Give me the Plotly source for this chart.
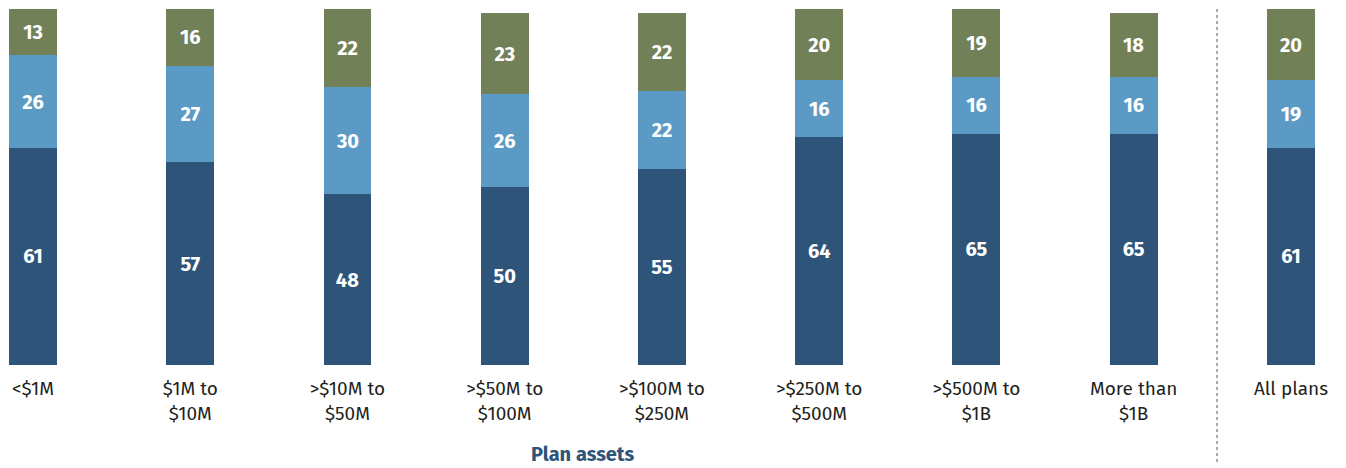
import plotly.graph_objects as go

categories = ["<$1M", "$1M to<br>$10M", ">$10M to<br>$50M", ">$50M to<br>$100M",
              ">$100M to<br>$250M", ">$250M to<br>$500M", ">$500M to<br>$1B",
              "More than<br>$1B", "All plans"]
bottom_vals = [61, 57, 48, 50, 55, 64, 65, 65, 61]
middle_vals = [26, 27, 30, 26, 22, 16, 16, 16, 19]
top_vals = [13, 16, 22, 23, 22, 20, 19, 18, 20]

colors = ["#2E5579", "#5A9AC5", "#718056"]
FONT = "Fira Sans, Noto Sans, sans-serif"

x = list(range(len(categories)))
fig = go.Figure()
for vals, col in zip([bottom_vals, middle_vals, top_vals], colors):
    fig.add_trace(go.Bar(
        x=x, y=vals, width=0.305, marker=dict(color=col, line=dict(width=0)),
        text=[str(v) for v in vals], textposition="inside",
        insidetextanchor="middle", constraintext="none",
        textfont=dict(color="white", size=20, family=FONT, weight="bold"),
        hoverinfo="skip", showlegend=False,
    ))

fig.update_layout(
    barmode="stack",
    width=1338, height=460,
    margin=dict(l=0, r=0, t=1, b=103),
    paper_bgcolor="white", plot_bgcolor="white",
    font=dict(family=FONT, color="#231F20"),
    xaxis=dict(range=[-0.159, 8.35], tickvals=x, ticktext=categories,
               tickfont=dict(size=19, color="#231F20", family=FONT),
               ticklabelstandoff=10,
               showgrid=False, zeroline=False, showline=False, ticks=""),
    yaxis=dict(range=[0, 100], visible=False),
)

fig.add_shape(type="line", xref="x", yref="paper", x0=7.53, x1=7.53,
              y0=-0.2725, y1=1.02, line=dict(color="#A6A6A6", width=2, dash="dot"))

fig.add_annotation(text="<b>Plan assets</b>", xref="x", yref="paper",
                   x=3.5, y=-0.25, yanchor="middle", showarrow=False,
                   font=dict(size=20, color="#2E5579", family=FONT))

fig.write_html("out.html")
